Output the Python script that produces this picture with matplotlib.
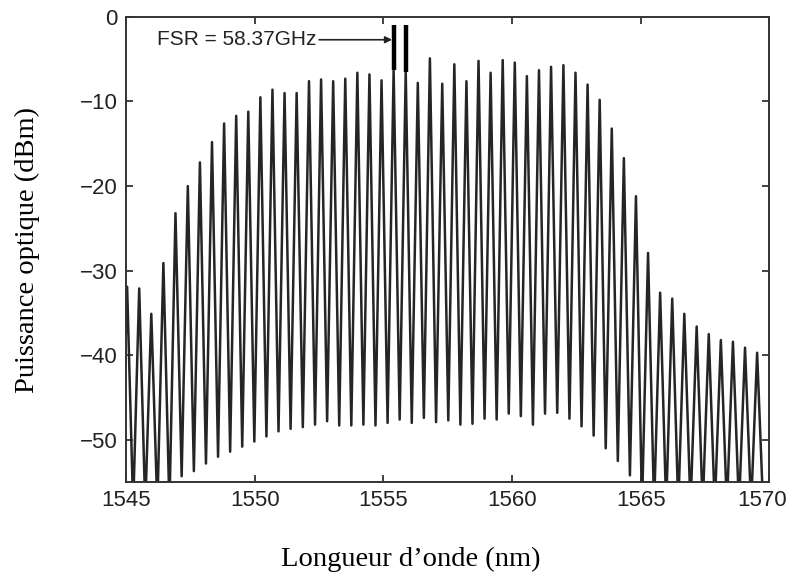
import matplotlib
matplotlib.use('Agg')
import matplotlib.pyplot as plt
import matplotlib.transforms as mtransforms
import numpy as np

# Peigne de frequences : positions et puissances des pics et des creux
# (longueur d'onde en nm, puissance en dBm)
pics_nm = [1545.04, 1545.51, 1545.98, 1546.45, 1546.92, 1547.40, 1547.87, 1548.34,
           1548.81, 1549.28, 1549.75, 1550.22, 1550.69, 1551.16, 1551.63, 1552.11,
           1552.58, 1553.05, 1553.52, 1553.99, 1554.46, 1554.93, 1555.40, 1555.87,
           1556.34, 1556.81, 1557.29, 1557.76, 1558.23, 1558.70, 1559.17, 1559.64,
           1560.11, 1560.58, 1561.05, 1561.52, 1562.00, 1562.47, 1562.94, 1563.41,
           1563.88, 1564.35, 1564.82, 1565.29, 1565.76, 1566.23, 1566.70, 1567.18,
           1567.65, 1568.12, 1568.59, 1569.06, 1569.53]
pics_db = [-31.9, -32.1, -35.1, -29.1, -23.2, -20.0, -17.2, -14.8, -12.6, -11.7,
           -11.2, -9.5, -8.6, -9.0, -9.0, -7.6, -7.4, -7.6, -7.3, -6.6,
           -6.8, -7.5, -6.3, -6.5, -7.8, -4.9, -7.9, -5.6, -7.6, -5.2,
           -6.6, -5.1, -5.4, -7.0, -6.3, -5.9, -5.7, -6.6, -8.0, -9.8,
           -13.2, -16.7, -21.2, -27.9, -32.6, -33.3, -35.1, -36.6, -37.5, -38.2,
           -38.4, -39.1, -39.7]
# creux : un avant le premier pic, un entre chaque pic, un apres le dernier
creux_db = [-58.0, -58.0, -58.0, -58.0, -58.0, -54.3, -53.7, -52.8, -52.0, -51.4,
            -50.8, -50.2, -49.6, -49.0, -48.7, -48.5, -48.2, -47.8, -48.3, -48.3,
            -48.2, -48.3, -48.0, -47.6, -48.0, -47.4, -47.9, -47.7, -48.2, -48.1,
            -47.5, -47.6, -46.9, -47.2, -48.2, -46.9, -46.8, -47.5, -48.4, -49.5,
            -51.0, -52.5, -54.2, -58.0, -58.0, -58.0, -58.0, -58.0, -58.0, -58.0,
            -58.0, -58.0, -58.0, -58.0]

fsr_texte = "FSR = 58.37GHz"
fsr_pics = [22, 23]   # indices des deux pics marques
fsr_haut = -1.0

# on alterne creux / pic pour tracer le spectre
pics = np.array(pics_nm)
milieux = (pics[:-1] + pics[1:]) / 2
pas = pics[1] - pics[0]
creux_nm = np.concatenate([[pics[0] - pas / 2], milieux, [pics[-1] + pas / 2]])
x = np.empty(len(pics) + len(creux_nm))
y = np.empty_like(x)
x[0::2] = creux_nm
x[1::2] = pics
y[0::2] = creux_db
y[1::2] = pics_db

plt.rcParams['font.family'] = ['Liberation Sans', 'DejaVu Sans']

fig = plt.figure(figsize=(7.93, 5.83), dpi=100)
ax = fig.add_axes([0.159, 0.173, 0.811, 0.798])

ax.plot(x, y, color='#252525', lw=1.8, solid_joinstyle='round')

# marqueur FSR
for i in fsr_pics:
    ax.vlines(pics_nm[i], pics_db[i], fsr_haut, color='black', lw=3.2)
ax.annotate(fsr_texte, xy=(pics_nm[fsr_pics[0]] - 0.06, -2.7),
            xytext=(1546.2, -2.7), va='center', ha='left', fontsize=15,
            color='#222222',
            arrowprops=dict(arrowstyle='-|>', color='#222222', lw=1.2,
                            mutation_scale=10, shrinkA=0, shrinkB=0))

ax.set_xlim(1545, 1570)
ax.set_ylim(-55, 0)
ax.set_xticks([1545, 1550, 1555, 1560, 1565, 1570])
ax.set_yticks([0, -10, -20, -30, -40, -50])
ax.tick_params(direction='in', top=True, right=True, length=5, width=1.2,
               labelsize=16, colors='#222222', pad=6)
for s in ax.spines.values():
    s.set_linewidth(1.4)
    s.set_color('#333333')

# le dernier libelle (1570) est un peu decale vers la gauche pour rester dans l'image
fig.canvas.draw()
dernier = ax.get_xticklabels()[-1]
dernier.set_transform(dernier.get_transform() +
                      mtransforms.ScaledTranslation(-7 / 100, 0, fig.dpi_scale_trans))

fig.text(0.518, 0.040, "Longueur d’onde (nm)", family='Liberation Serif',
         fontsize=20.5, ha='center', va='center')
fig.text(0.034, 0.571, "Puissance optique (dBm)", family='Liberation Serif',
         fontsize=20.5, ha='center', va='center', rotation=90)

fig.savefig("out.png", dpi=100)
